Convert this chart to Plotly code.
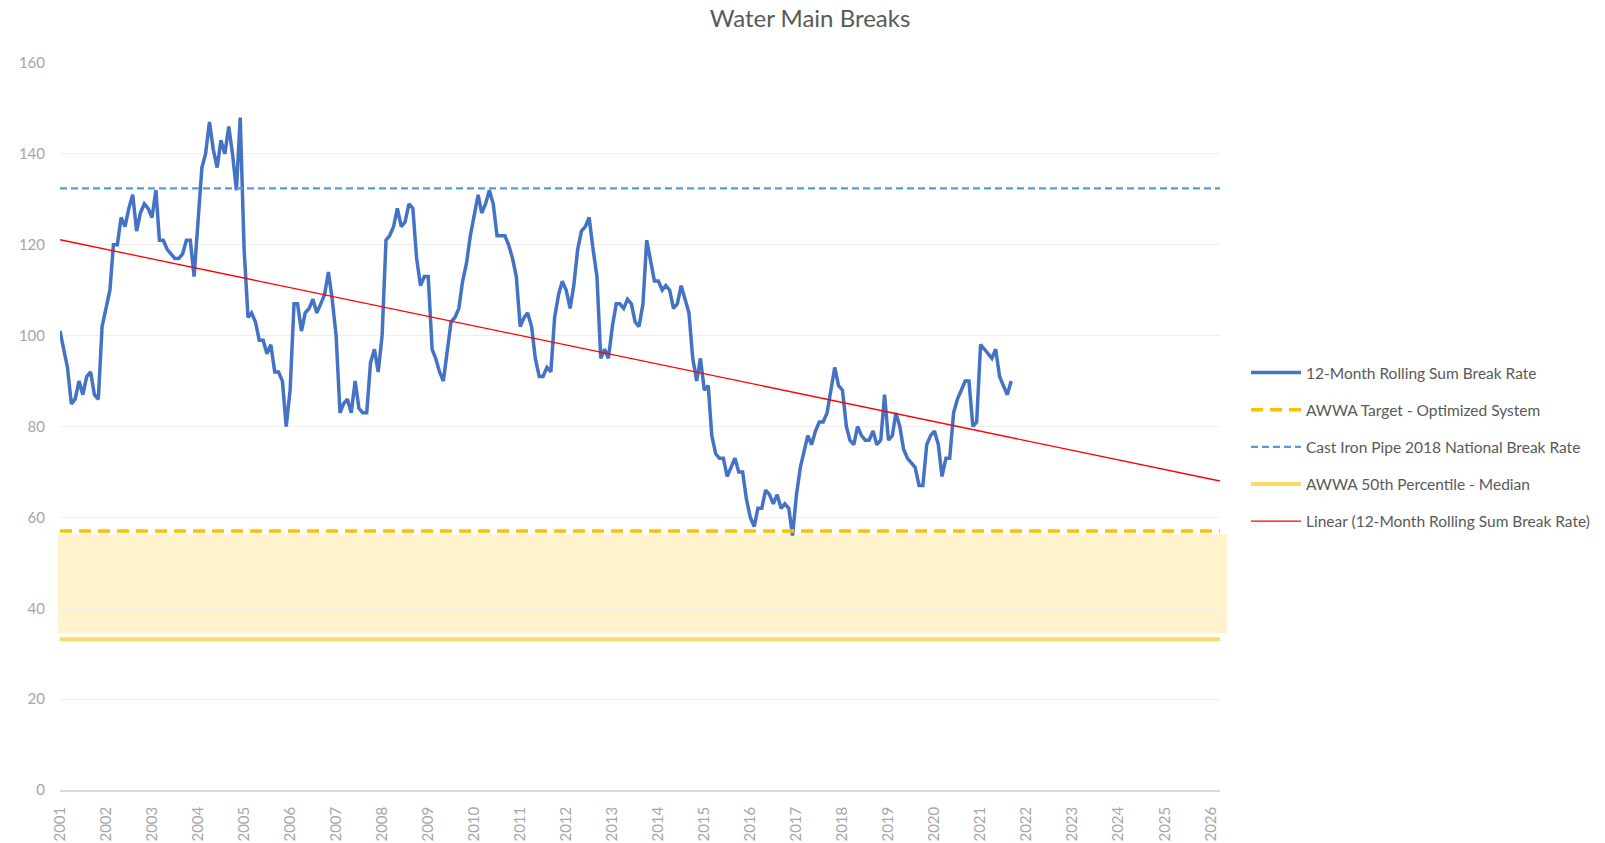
import pandas as pd
import plotly.graph_objects as go

# ---- data ----
start_month = "2001-01-01"
rolling_sum_break_rate = [
    101, 97, 93, 85, 86, 90, 87, 91, 92, 87, 86, 102,           # 2001
    106, 110, 120, 120, 126, 124, 128, 131, 123, 127, 129, 128,  # 2002
    126, 132, 121, 121, 119, 118, 117, 117, 118, 121, 121, 113,  # 2003
    125, 137, 140, 147, 141, 137, 143, 140, 146, 140, 132, 148,  # 2004
    119, 104, 105, 103, 99, 99, 96, 98, 92, 92, 90, 80,          # 2005
    88, 107, 107, 101, 105, 106, 108, 105, 107, 109, 114, 108,   # 2006
    100, 83, 85, 86, 83, 90, 84, 83, 83, 94, 97, 92,             # 2007
    100, 121, 122, 124, 128, 124, 125, 129, 128, 117, 111, 113,  # 2008
    113, 97, 95, 92, 90, 96, 103, 104, 106, 112, 116, 122,       # 2009
    127, 131, 127, 129, 132, 129, 122, 122, 122, 120, 117, 113,  # 2010
    102, 104, 105, 102, 95, 91, 91, 93, 92, 104, 109, 112,       # 2011
    110, 106, 111, 119, 123, 124, 126, 119, 113, 95, 97, 95,     # 2012
    102, 107, 107, 106, 108, 107, 103, 102, 107, 121, 116, 112,  # 2013
    112, 110, 111, 110, 106, 107, 111, 108, 105, 95, 90, 95,     # 2014
    88, 89, 78, 74, 73, 73, 69, 71, 73, 70, 70, 64,              # 2015
    60, 58, 62, 62, 66, 65, 63, 65, 62, 63, 62, 56,              # 2016
    65, 71, 74, 78, 76, 79, 81, 81, 83, 88, 93, 89,              # 2017
    88, 80, 77, 76, 80, 78, 77, 77, 79, 76, 77, 87,              # 2018
    77, 78, 83, 80, 75, 73, 72, 71, 67, 67, 76, 78,              # 2019
    79, 76, 69, 73, 73, 83, 86, 88, 90, 90, 80, 81,              # 2020
    98, 97, 96, 95, 97, 91, 89, 87, 90,                          # 2021
]
awwa_target = 57.0
cast_iron_2018_rate = 132.4
awwa_median = 33.2
band_low = 34.5
band_high = 56.3
axis_start = "2001-01-01"
axis_end = "2026-03-16"
trend_x = ["2001-01-01", "2026-03-16"]
trend_y = [121.1, 68.0]
years = list(range(2001, 2027))
y_ticks = [0, 20, 40, 60, 80, 100, 120, 140, 160]

months = pd.date_range(start_month, periods=len(rolling_sum_break_rate), freq="MS")
FONT = "Lato"

W, H = 1605, 843

fig = go.Figure()

fig.add_shape(type="rect", xref="paper", yref="y", x0=-0.002, x1=1.006,
              y0=band_low, y1=band_high, fillcolor="#FFF2CC", line_width=0,
              layer="below")

fig.add_trace(go.Scatter(
    x=months, y=rolling_sum_break_rate, mode="lines",
    name="12-Month Rolling Sum Break Rate",
    line=dict(color="#4472C4", width=3.5),
    legendgroup="a", legendrank=1))

fig.add_trace(go.Scatter(
    x=[axis_start, axis_end], y=[cast_iron_2018_rate] * 2, mode="lines",
    name="Cast Iron Pipe 2018 National Break Rate",
    line=dict(color="#5B9BD5", width=2.2, dash="7px,4px"),
    legendgroup="c", legendrank=3))

fig.add_trace(go.Scatter(
    x=[axis_start, axis_end], y=[awwa_median] * 2, mode="lines",
    name="AWWA 50th Percentile - Median",
    line=dict(color="#FFD966", width=4),
    legendgroup="d", legendrank=4))

fig.add_trace(go.Scatter(
    x=trend_x, y=trend_y, mode="lines",
    name="Linear (12-Month Rolling Sum Break Rate)",
    line=dict(color="#FF0000", width=1.3),
    legendgroup="e", legendrank=5))

fig.add_trace(go.Scatter(
    x=[axis_start, axis_end], y=[awwa_target] * 2, mode="lines",
    name="AWWA Target - Optimized System",
    line=dict(color="#FFC000", width=3.5, dash="12px,7px"),
    legendgroup="b", legendrank=2))

plot_left, plot_right = 60, 1220
plot_top, plot_bottom = 63, 790
plot_w = plot_right - plot_left
plot_h = plot_bottom - plot_top

fig.update_layout(
    width=W, height=H,
    margin=dict(l=plot_left, r=W - plot_right, t=plot_top, b=H - plot_bottom,
                autoexpand=False),
    paper_bgcolor="white", plot_bgcolor="white",
    font=dict(family=FONT, color="#595959"),
    title=dict(text="Water Main Breaks", x=810 / W, xanchor="center",
               y=1 - 19 / H, yanchor="middle",
               font=dict(family=FONT, size=24, color="#595959")),
    showlegend=True,
    legend=dict(x=(1246 - plot_left) / plot_w, xanchor="left",
                y=1 - (356 - plot_top) / plot_h, yanchor="top",
                font=dict(family=FONT, size=15.5, color="#595959"),
                tracegroupgap=14, itemwidth=50, traceorder="grouped",
                bgcolor="rgba(0,0,0,0)"),
)

fig.update_xaxes(
    type="date", range=[axis_start, axis_end],
    tickvals=[f"{y}-01-01" for y in years], ticktext=[str(y) for y in years],
    tickangle=-90, tickfont=dict(family=FONT, size=15, color="#A6A6A6"),
    showgrid=False, showline=True, linecolor="#D9D9D9", linewidth=1.5,
    ticks="", ticklabelstandoff=9, automargin=False)

fig.update_yaxes(
    range=[0, 160], tickvals=y_ticks,
    tickfont=dict(family=FONT, size=15, color="#A6A6A6"),
    showgrid=True, gridcolor="#EEEEEE", gridwidth=1,
    zeroline=False, showline=False, ticks="", ticklabelstandoff=14,
    automargin=False)

page_css = ("document.documentElement.style.margin='0';"
            "document.body.style.margin='0';"
            "document.documentElement.style.overflow='hidden';"
            "document.body.style.overflow='hidden';")
fig.write_html("out.html", post_script=page_css,
               config={"displayModeBar": False})
